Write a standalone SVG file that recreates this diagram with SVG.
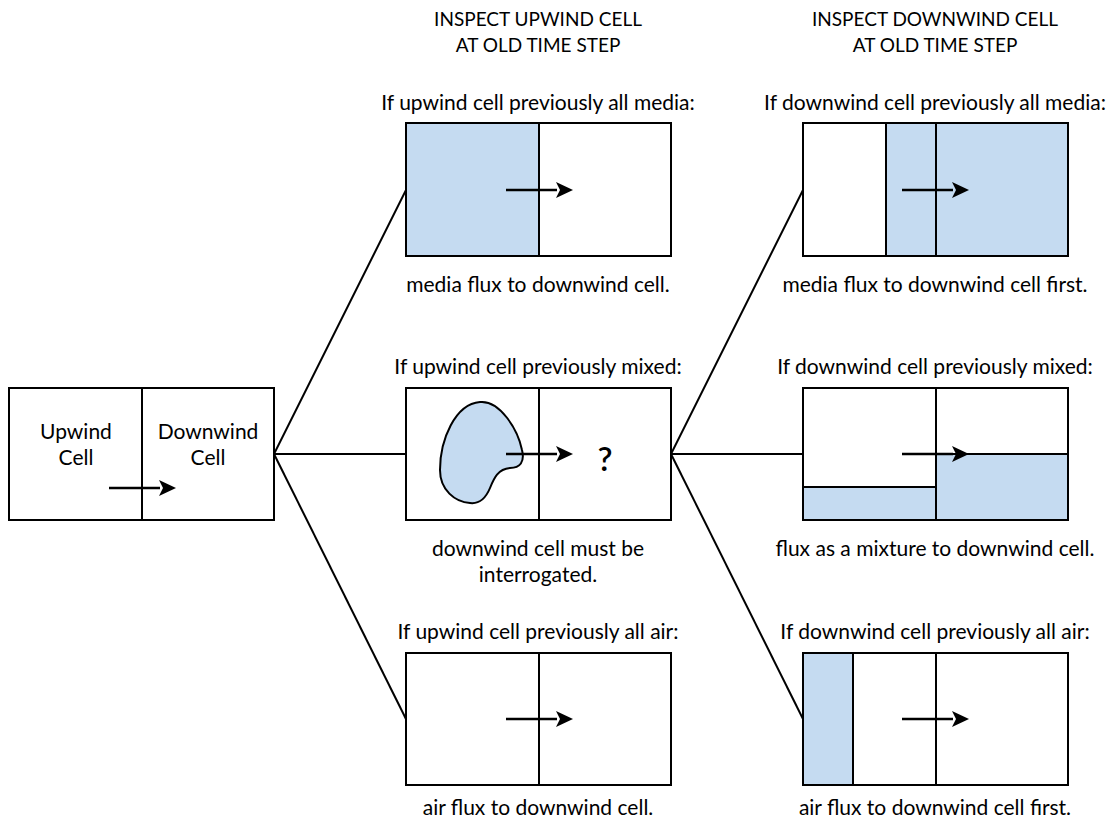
<svg xmlns="http://www.w3.org/2000/svg" width="1119" height="826" viewBox="0 0 1119 826">
<defs>
<style>
.box{fill:#fff;stroke:#000;stroke-width:2}
.blue{fill:#c5dbf1;stroke:none}
.ln{stroke:#000;stroke-width:2;fill:none}
.arr{stroke:#000;stroke-width:2.5;fill:none}
.head{fill:#000}
text{font-family:Lato,"Open Sans",sans-serif;font-size:21px;fill:#000;text-anchor:middle}
.hd{font-size:19px}
</style>
</defs>
<rect width="1119" height="826" fill="#fff"/>
<g id="connectors">
<line class="ln" x1="274" y1="454" x2="406" y2="190"/>
<line class="ln" x1="274" y1="454" x2="406" y2="454"/>
<line class="ln" x1="274" y1="454" x2="406" y2="719"/>
<line class="ln" x1="671" y1="454" x2="803" y2="190"/>
<line class="ln" x1="671" y1="454" x2="803" y2="454"/>
<line class="ln" x1="671" y1="454" x2="803" y2="719"/>
</g>
<g id="headers">
<text class="hd" x="538" y="26">INSPECT UPWIND CELL</text>
<text class="hd" x="538" y="52">AT OLD TIME STEP</text>
<text class="hd" x="935" y="26">INSPECT DOWNWIND CELL</text>
<text class="hd" x="935" y="52">AT OLD TIME STEP</text>
</g>
<g id="start">
<rect class="box" x="9" y="388" width="265" height="132"/>
<line class="ln" x1="142" y1="388" x2="142" y2="520"/>
<text x="76" y="439">Upwind</text>
<text x="76" y="465">Cell</text>
<text x="208" y="439">Downwind</text>
<text x="208" y="465">Cell</text>
<line class="arr" x1="109" y1="488" x2="160" y2="488"/>
<path class="head" d="M176,488 L159,480 L163,488 L159,496 Z"/>
</g>
<g id="up-media">
<text x="538" y="110">If upwind cell previously all media:</text>
<rect class="box" x="406" y="123" width="265" height="133"/>
<rect class="blue" x="407" y="124" width="132" height="131"/>
<line class="ln" x1="539" y1="123" x2="539" y2="256"/>
<line class="arr" x1="506" y1="190" x2="557" y2="190"/>
<path class="head" d="M573,190 L556,182 L560,190 L556,198 Z"/>
<text x="538" y="292">media flux to downwind cell.</text>
</g>
<g id="up-mixed">
<text x="538" y="374">If upwind cell previously mixed:</text>
<rect class="box" x="406" y="388" width="265" height="132"/>
<line class="ln" x1="539" y1="388" x2="539" y2="520"/>
<path d="M480,402 C500,400 518,430 522,450 C525,462 520,468 510,468 C498,469 494,478 490,488 C485,500 478,504 470,503 C455,502 440,490 440,470 C440,440 455,404 480,402 Z" fill="#c5dbf1" stroke="#000" stroke-width="2"/>
<line class="arr" x1="506" y1="454" x2="557" y2="454"/>
<path class="head" d="M573,454 L556,446 L560,454 L556,462 Z"/>
<text x="605" y="471" style="font-size:33px;font-weight:600">?</text>
<text x="538" y="556">downwind cell must be</text>
<text x="538" y="582">interrogated.</text>
</g>
<g id="up-air">
<text x="538" y="639">If upwind cell previously all air:</text>
<rect class="box" x="406" y="653" width="265" height="132"/>
<line class="ln" x1="539" y1="653" x2="539" y2="785"/>
<line class="arr" x1="506" y1="719" x2="557" y2="719"/>
<path class="head" d="M573,719 L556,711 L560,719 L556,727 Z"/>
<text x="538" y="815">air flux to downwind cell.</text>
</g>
<g id="down-media">
<text x="935" y="110">If downwind cell previously all media:</text>
<rect class="box" x="803" y="123" width="265" height="133"/>
<rect class="blue" x="886" y="124" width="181" height="131"/>
<line class="ln" x1="886" y1="123" x2="886" y2="256"/>
<line class="ln" x1="936" y1="123" x2="936" y2="256"/>
<line class="arr" x1="902" y1="190" x2="953" y2="190"/>
<path class="head" d="M969,190 L952,182 L956,190 L952,198 Z"/>
<text x="935" y="292">media flux to downwind cell first.</text>
</g>
<g id="down-mixed">
<text x="935" y="374">If downwind cell previously mixed:</text>
<rect class="box" x="803" y="388" width="265" height="132"/>
<rect class="blue" x="804" y="487" width="132" height="32"/>
<rect class="blue" x="936" y="454" width="131" height="65"/>
<line class="ln" x1="803" y1="487" x2="936" y2="487"/>
<line class="ln" x1="936" y1="454" x2="1068" y2="454"/>
<line class="ln" x1="936" y1="388" x2="936" y2="520"/>
<line class="arr" x1="902" y1="454" x2="953" y2="454"/>
<path class="head" d="M969,454 L952,446 L956,454 L952,462 Z"/>
<text x="935" y="556">flux as a mixture to downwind cell.</text>
</g>
<g id="down-air">
<text x="935" y="639">If downwind cell previously all air:</text>
<rect class="box" x="803" y="653" width="265" height="132"/>
<rect class="blue" x="804" y="654" width="49" height="130"/>
<line class="ln" x1="853" y1="653" x2="853" y2="785"/>
<line class="ln" x1="936" y1="653" x2="936" y2="785"/>
<line class="arr" x1="902" y1="719" x2="953" y2="719"/>
<path class="head" d="M969,719 L952,711 L956,719 L952,727 Z"/>
<text x="935" y="815">air flux to downwind cell first.</text>
</g>
</svg>
